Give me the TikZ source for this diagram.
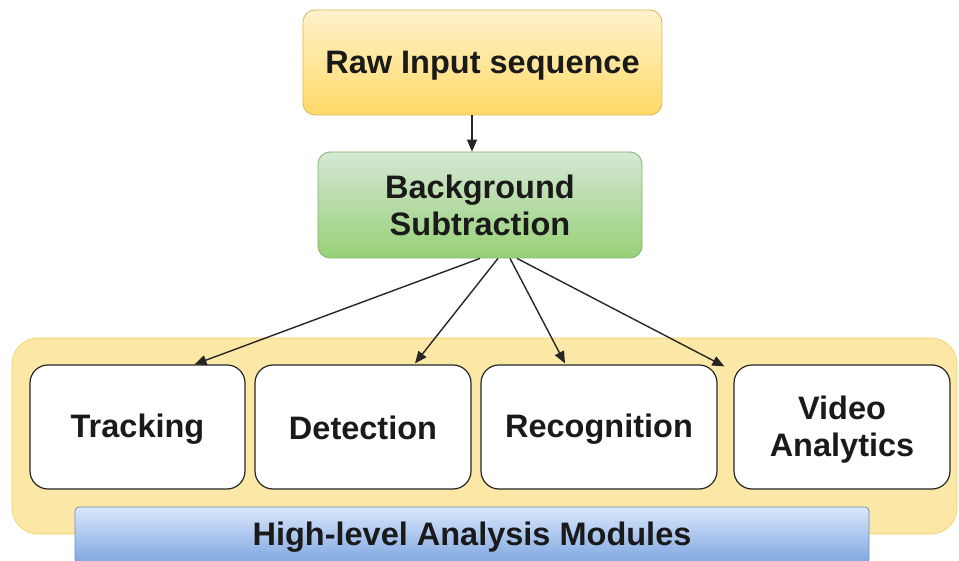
\documentclass[tikz,border=0pt]{standalone}
\usepackage{fontspec}
\setmainfont{Liberation Sans}
\usetikzlibrary{arrows.meta,calc}
\definecolor{ytop}{HTML}{FFF2CC}
\definecolor{ybot}{HTML}{FFD966}
\definecolor{yline}{HTML}{D6B656}
\definecolor{gtop}{HTML}{D5E8D4}
\definecolor{gbot}{HTML}{97D077}
\definecolor{gline}{HTML}{82B366}
\definecolor{btop}{HTML}{DAE8FC}
\definecolor{bbot}{HTML}{7EA6E0}
\definecolor{bline}{HTML}{6C8EBF}
\definecolor{cont}{HTML}{FCE8A6}
\definecolor{txt}{HTML}{1A1A1A}
\newcommand{\lnstrut}{\rule[-4pt]{0pt}{32.5pt}}
\tikzset{
  lbl/.style={font=\fontsize{32.5}{37}\selectfont\bfseries, text=txt, align=center, inner sep=0pt},
  topbox/.style={lbl, rounded corners=12pt, draw=yline, line width=0.8pt, top color=ytop, bottom color=ybot},
  greenbox/.style={lbl, rounded corners=12pt, draw=gline, line width=0.8pt, top color=gtop, bottom color=gbot},
  modbox/.style={lbl, rounded corners=18pt, draw=black!85, line width=1.2pt, fill=white},
  bluebar/.style={lbl, rounded corners=4pt, draw=bline, line width=0.8pt, top color=btop, bottom color=bbot},
  conn/.style={-{Triangle[length=12pt,width=10pt]}, line width=1.4pt, draw=black!85}
}
\begin{document}
\begin{tikzpicture}[x=1pt,y=-1pt]
\useasboundingbox (0,0) rectangle (959,561);
% container
\node[rounded corners=26pt, fill=cont, draw=ybot!70!yline, line width=0.6pt, minimum width=945pt, minimum height=196pt, inner sep=0pt] (cont) at (484.5,436) {};
% top boxes
\node[topbox, minimum width=359pt, minimum height=105pt] (raw) at (482.5,62.5) {\lnstrut Raw Input sequence};
\node[greenbox, minimum width=324pt, minimum height=106pt] (bg) at (480,205) {\lnstrut Background\\[0pt]\lnstrut Subtraction};
% modules
\node[modbox, minimum width=215pt, minimum height=124pt] (trk) at (137.5,427) {\lnstrut Tracking};
\node[modbox, minimum width=216pt, minimum height=124pt] (det) at (363,427) {\lnstrut Detection};
\node[modbox, minimum width=236pt, minimum height=124pt] (rec) at (599,427) {\lnstrut Recognition};
\node[modbox, minimum width=216pt, minimum height=124pt] (va) at (842,427) {\lnstrut Video\\[0pt]\lnstrut Analytics};
% blue bar
\node[bluebar, minimum width=794pt, minimum height=56pt] (hl) at (472,535) {\lnstrut High-level Analysis Modules};
% connectors
\draw[conn] ($(raw.south)+(-10.5,0)$) -- ($(bg.north)+(-8,0)$);
\coordinate (s1) at ($(bg.south)+(0,0)$);
\coordinate (s2) at ($(bg.south)+(18,0)$);
\coordinate (s3) at ($(bg.south)+(30,0)$);
\coordinate (s4) at ($(bg.south)+(37,0)$);
\coordinate (e1) at ($(trk.north)+(57,0)$);
\coordinate (e2) at ($(det.north)+(52,-1)$);
\coordinate (e3) at ($(rec.north)+(-34,-1)$);
\coordinate (e4) at ($(va.north west)+(-9,2)$);
\draw[conn] (s1) -- (e1);
\draw[conn] (s2) -- (e2);
\draw[conn] (s3) -- (e3);
\draw[conn] (s4) -- (e4);
\end{tikzpicture}
\end{document}
